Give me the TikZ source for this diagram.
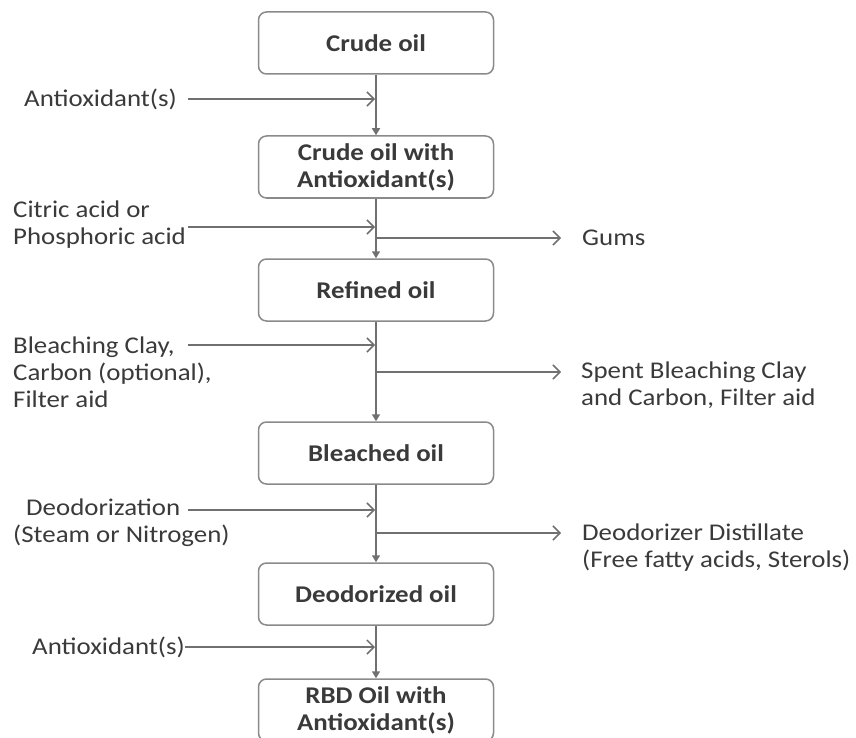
\documentclass[tikz,border=0pt]{standalone}
\usepackage{fontspec}
\setmainfont{Carlito}[FakeStretch=1.12]
\usetikzlibrary{arrows.meta}

\definecolor{inkgray}{HTML}{3A3A3A}
\definecolor{linegray}{HTML}{707070}
\definecolor{boxgray}{HTML}{8A8A8A}

\begin{document}
\begin{tikzpicture}[
    x = 1pt, y = -1pt,
    every node/.style = {font = \fontsize{24}{27}\selectfont, text = inkgray},
    stage/.style = {draw = boxgray, line width = 1.5pt, rounded corners = 8pt,
        fill = white, minimum width = 235pt, minimum height = 62pt,
        align = center, font = \fontsize{24}{27}\selectfont\bfseries},
    side/.style = {inner sep = 0pt, align = left},
    flow/.style = {draw = linegray, line width = 1.5pt, -{Triangle[length=7pt, width=8pt]}},
    feed/.style = {draw = linegray, line width = 1.5pt, shorten > = 1pt,
        -{Straight Barb[length=7pt, width=14pt, line width=1.5pt]}}]

\useasboundingbox (0,0) rectangle (856,738);

\node[stage] (crude)    at (376,43)  {Crude oil};
\node[stage] (crudeao)  at (376,167) {Crude oil with\\Antioxidant(s)};
\node[stage] (refined)  at (376,290) {Refined oil};
\node[stage] (bleached) at (376,453) {Bleached oil};
\node[stage] (deodor)   at (376,594) {Deodorized oil};
\node[stage] (rbd)      at (376,710) {RBD Oil with\\Antioxidant(s)};

\node[side, anchor=west] (ao1)   at (24,99)    {Antioxidant(s)};
\node[side, anchor=west] (acid)  at (13,224.5) {Citric acid or\\Phosphoric acid};
\node[side, anchor=west] (clay)  at (13,372)   {Bleaching Clay,\\Carbon (optional),\\Filter aid};
\node[side, anchor=west] (steam) at (13,523)   {\hspace*{13pt}Deodorization\\(Steam or Nitrogen)};
\node[side, anchor=west] (ao2)   at (32,647)   {Antioxidant(s)};

\node[side, anchor=west] (gums)    at (582,238)   {Gums};
\node[side, anchor=west] (spent)   at (581,385.5) {Spent Bleaching Clay\\and Carbon, Filter aid};
\node[side, anchor=west] (distill) at (582,548)   {Deodorizer Distillate\\(Free fatty acids, Sterols)};

\coordinate (in1) at (188,99);
\coordinate (in2) at (188,227);
\coordinate (in3) at (188,345);
\coordinate (in4) at (188,510);
\coordinate (in5) at (185,647);
\coordinate (out1) at (562,238);
\coordinate (out2) at (562,372);
\coordinate (out3) at (562,533);

\draw[flow] (crude) -- (crudeao);
\draw[flow] (crudeao) -- (refined);
\draw[flow] (refined) -- (bleached);
\draw[flow] (bleached) -- (deodor);
\draw[flow] (deodor) -- (rbd);

\draw[feed] (in1) -- (in1 -| crude);
\draw[feed] (in2) -- (in2 -| crude);
\draw[feed] (in3) -- (in3 -| crude);
\draw[feed] (in4) -- (in4 -| crude);
\draw[feed] (in5) -- (in5 -| crude);

\draw[feed] (out1 -| crude) -- (out1);
\draw[feed] (out2 -| crude) -- (out2);
\draw[feed] (out3 -| crude) -- (out3);
\end{tikzpicture}
\end{document}
